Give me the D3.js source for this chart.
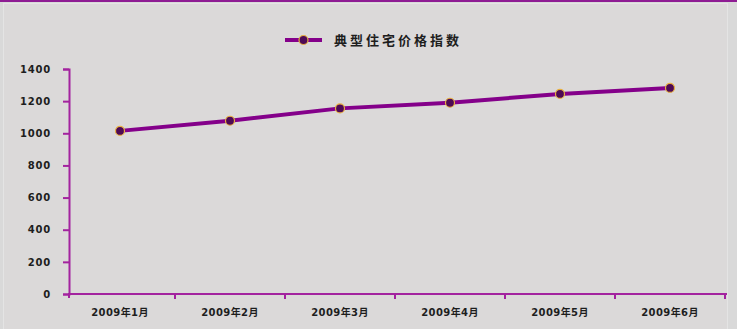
<!DOCTYPE html>
<html>
<head>
<meta charset="utf-8">
<script src="https://cdn.jsdelivr.net/npm/d3@7"></script>
<style>
  html, body { margin: 0; padding: 0; background: #d9d9d9; }
  svg { display: block; }
</style>
</head>
<body>
<svg id="chart" width="737" height="329"></svg>
<script>
// Monthly index values, Jan–Jun 2009
const categories = ["2009年1月", "2009年2月", "2009年3月", "2009年4月", "2009年5月", "2009年6月"];
const seriesName = "典型住宅价格指数";
const values = [1015, 1078, 1155, 1190, 1245, 1282];
const yTicks = [0, 200, 400, 600, 800, 1000, 1200, 1400];

const W = 737, H = 329;
const margin = { left: 69, right: 10, top: 69, bottom: 35 };
const lineColor = "#84008a";
const axisColor = "#a3239f";
const textColor = "#1e1e1e";

const svg = d3.select("#chart");

// background panel with a thin lighter frame and a purple top rule
svg.append("rect").attr("x", 0).attr("y", 0).attr("width", W).attr("height", H).attr("fill", "#d9d9d9");
svg.append("rect").attr("x", 3.5).attr("y", 3.5).attr("width", 724).attr("height", 330)
  .attr("fill", "#dbd9d9").attr("stroke", "#e4e4e4").attr("stroke-width", 1);
svg.append("line").attr("x1", 0).attr("x2", W).attr("y1", 1).attr("y2", 1)
  .attr("stroke", "#8e1c93").attr("stroke-width", 2);

const x = d3.scaleBand().domain(categories).range([65, 725]).padding(0);
const y = d3.scaleLinear().domain([0, 1400]).range([H - margin.bottom, margin.top]);

// y axis
const yAxis = svg.append("g")
  .attr("transform", `translate(${margin.left},0)`)
  .call(d3.axisLeft(y).tickValues(yTicks).tickSize(6).tickPadding(12).tickFormat(d3.format("d")));
yAxis.select(".domain").attr("stroke", axisColor).attr("stroke-width", 2);
yAxis.selectAll(".tick line").attr("stroke", axisColor).attr("stroke-width", 2);
yAxis.selectAll(".tick text")
  .attr("fill", textColor)
  .style("font-family", "'DejaVu Sans', sans-serif")
  .style("font-size", "10px").style("font-weight", "bold").style("letter-spacing", "0.8px");

// x axis: ticks sit on the category boundaries, labels centred in each band
const xAxisY = y(0);
const xg = svg.append("g");
xg.append("line")
  .attr("x1", margin.left - 1).attr("x2", 727)
  .attr("y1", xAxisY).attr("y2", xAxisY)
  .attr("stroke", axisColor).attr("stroke-width", 2);
const boundaries = categories.map(c => x(c) + x.bandwidth());
xg.selectAll("line.tk").data(boundaries).join("line")
  .attr("class", "tk")
  .attr("x1", d => d).attr("x2", d => d)
  .attr("y1", xAxisY).attr("y2", xAxisY + 5)
  .attr("stroke", axisColor).attr("stroke-width", 2);
xg.append("line")
  .attr("x1", margin.left).attr("x2", margin.left)
  .attr("y1", xAxisY).attr("y2", xAxisY + 4)
  .attr("stroke", axisColor).attr("stroke-width", 2);
xg.selectAll("text").data(categories).join("text")
  .attr("x", d => x(d) + x.bandwidth() / 2)
  .attr("y", xAxisY + 22)
  .attr("text-anchor", "middle")
  .attr("fill", textColor)
  .style("font-family", "'DejaVu Sans', 'Noto Sans CJK SC', sans-serif")
  .style("font-size", "10px").style("font-weight", "bold").style("letter-spacing", "0.4px")
  .text(d => d);

// series line and markers
const pts = categories.map((c, i) => [x(c) + x.bandwidth() / 2, y(values[i])]);
svg.append("path")
  .attr("d", d3.line()(pts))
  .attr("fill", "none")
  .attr("stroke", lineColor)
  .attr("stroke-width", 4)
  .attr("stroke-linejoin", "round");
svg.selectAll("circle.pt").data(pts).join("circle")
  .attr("class", "pt")
  .attr("cx", d => d[0]).attr("cy", d => d[1]).attr("r", 4.5)
  .attr("fill", "#4e0a55")
  .attr("stroke", "#e8b040").attr("stroke-width", 1.2);

// legend
const lg = svg.append("g");
lg.append("line").attr("x1", 285).attr("x2", 322).attr("y1", 40).attr("y2", 40)
  .attr("stroke", lineColor).attr("stroke-width", 4);
lg.append("circle").attr("cx", 303.5).attr("cy", 40).attr("r", 4.5)
  .attr("fill", "#4e0a55").attr("stroke", "#e8b040").attr("stroke-width", 1.2);
lg.append("text").attr("x", 334).attr("y", 45)
  .attr("fill", textColor)
  .style("font-family", "'Noto Sans CJK SC', sans-serif")
  .style("font-size", "13px").style("font-weight", "bold").style("letter-spacing", "3px")
  .text(seriesName);
</script>
</body>
</html>
